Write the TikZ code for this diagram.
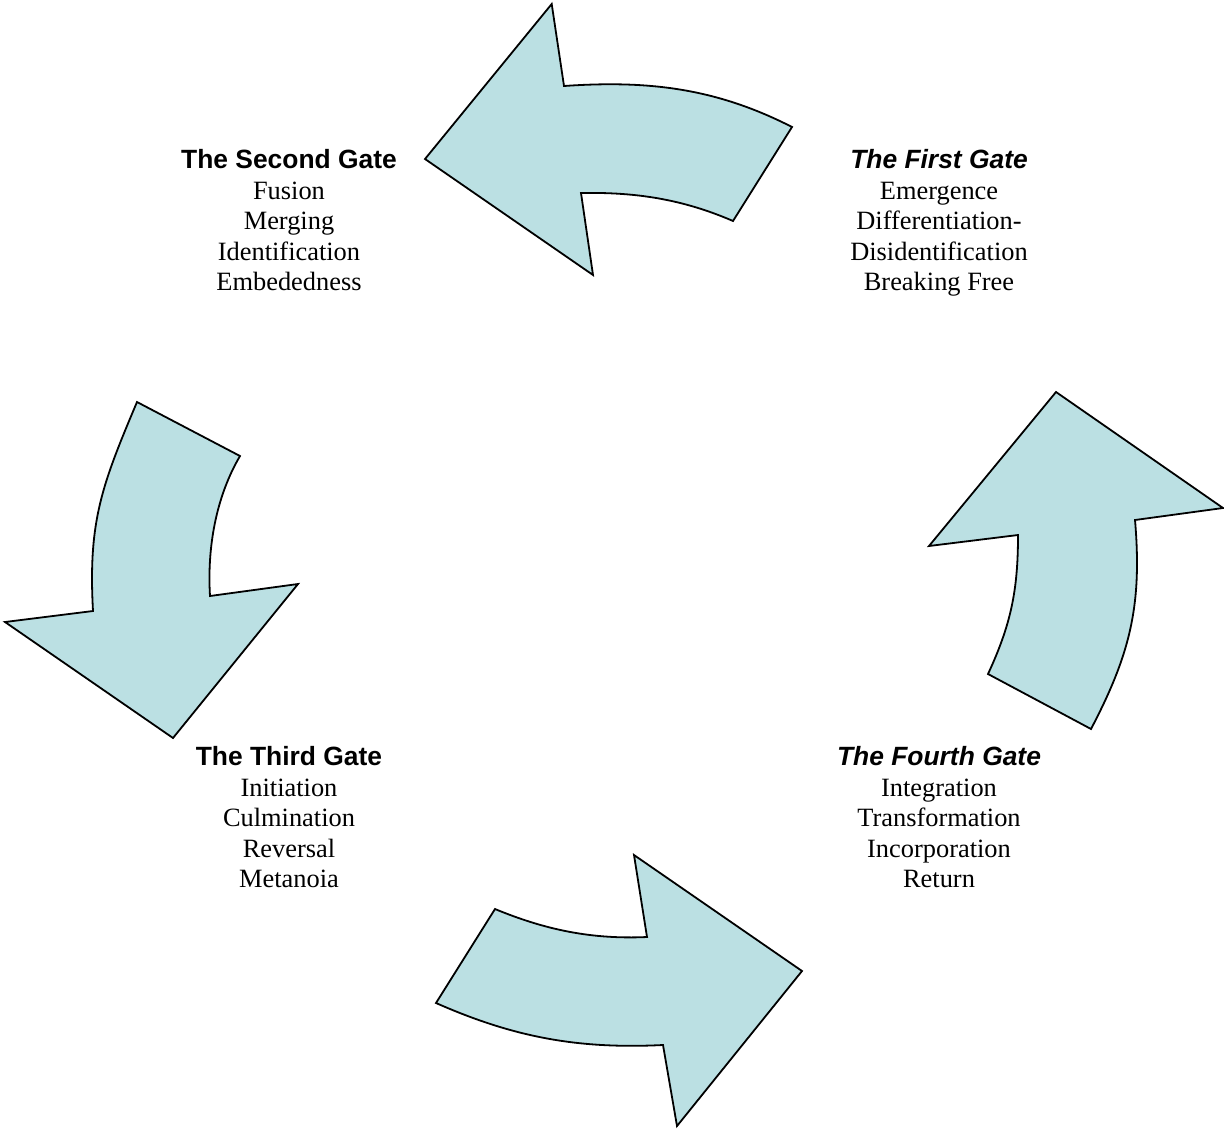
\documentclass[tikz,border=0pt]{standalone}
\usepackage{fontspec}
\setmainfont{Liberation Serif}
\newfontfamily\arialfont{Liberation Sans}
\definecolor{arrowfill}{RGB}{187,224,227}
\begin{document}
\begin{tikzpicture}[x=0.5pt,y=-0.5pt,
  arrowshape/.style={fill=arrowfill,draw=black,line width=0.9pt,line join=miter},
  gatetitle/.style={inner sep=0pt,anchor=base,font=\arialfont\bfseries\fontsize{13.2pt}{15.3pt}\selectfont},
  gatetitleit/.style={inner sep=0pt,anchor=base,font=\arialfont\bfseries\itshape\fontsize{13.2pt}{15.3pt}\selectfont},
  gateline/.style={inner sep=0pt,anchor=base,font=\fontsize{13.2pt}{15.3pt}\selectfont}]
\useasboundingbox (0,0) rectangle (1224,1129);

% top arrow (pointing left)
\draw[arrowshape] (551.7,4) -- (564,86)
  .. controls (648.8,80.1) and (716.3,88.3) .. (792,127)
  -- (733,221)
  .. controls (682.6,199.2) and (636,192) .. (581,193)
  -- (593,275) -- (425,159) -- cycle;

% left arrow (pointing down)
\draw[arrowshape] (137,402) -- (240,456)
  .. controls (215.7,497.4) and (207.1,548.1) .. (210,596)
  -- (298,584) -- (173,738) -- (5,622) -- (93,611)
  .. controls (88,521) and (102,485) .. (137,402) -- cycle;

% right arrow (pointing up)
\draw[arrowshape] (1056,392) -- (1223,508) -- (1135,520)
  .. controls (1142.2,604.7) and (1130.4,653.7) .. (1091,729)
  -- (988,674)
  .. controls (1011.1,624.1) and (1018,590) .. (1018,535)
  -- (929,546) -- cycle;

% bottom arrow (pointing right)
\draw[arrowshape] (634,855) -- (802,971) -- (677,1126) -- (663,1045)
  .. controls (578.1,1049.2) and (513.8,1037.3) .. (436,1003)
  -- (495,909)
  .. controls (545.8,930) and (592,939.5) .. (647,937)
  -- cycle;

% The Second Gate
\node[gatetitle] (t2) at (289,168) {The Second Gate};
\node[gateline] (t2a) at (289,199) {Fusion};
\node[gateline] (t2b) at (289,229.6) {Merging};
\node[gateline] (t2c) at (289,260.2) {Identification};
\node[gateline] (t2d) at (289,290.8) {Embededness};

% The First Gate
\node[gatetitleit] (t1) at (939,168) {The First Gate};
\node[gateline] (t1a) at (939,199) {Emergence};
\node[gateline] (t1b) at (939,229.6) {Differentiation-};
\node[gateline] (t1c) at (939,260.2) {Disidentification};
\node[gateline] (t1d) at (939,290.8) {Breaking Free};

% The Third Gate
\node[gatetitle] (t3) at (289,765) {The Third Gate};
\node[gateline] (t3a) at (289,796) {Initiation};
\node[gateline] (t3b) at (289,826.6) {Culmination};
\node[gateline] (t3c) at (289,857.2) {Reversal};
\node[gateline] (t3d) at (289,887.8) {Metanoia};

% The Fourth Gate
\node[gatetitleit] (t4) at (939,765) {The Fourth Gate};
\node[gateline] (t4a) at (939,796) {Integration};
\node[gateline] (t4b) at (939,826.6) {Transformation};
\node[gateline] (t4c) at (939,857.2) {Incorporation};
\node[gateline] (t4d) at (939,887.8) {Return};
\end{tikzpicture}
\end{document}
